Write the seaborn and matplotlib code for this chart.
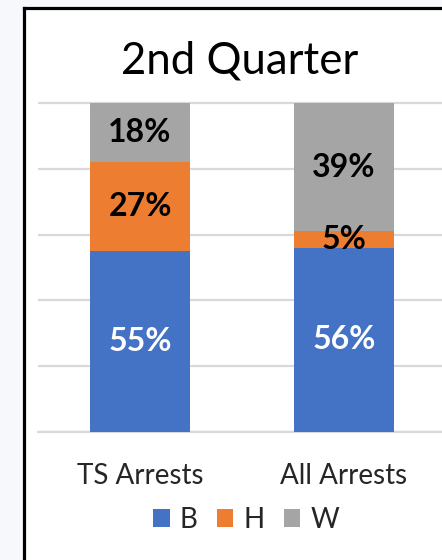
import matplotlib
matplotlib.use("Agg")
import matplotlib.pyplot as plt
import seaborn as sns
import numpy as np
from matplotlib.patches import Patch, Rectangle
from matplotlib.lines import Line2D

categories = ["TS Arrests", "All Arrests"]
series_names = ["B", "H", "W"]
B = [55, 56]
H = [27, 5]
W = [18, 39]
colors = {"B": "#4472C4", "H": "#ED7D31", "W": "#A5A5A5"}
label_colors = {"B": "white", "H": "black", "W": "black"}
title = "2nd Quarter"

sns.set_theme(style="white")
FONT = ["Lato", "DejaVu Sans"]
plt.rcParams["font.family"] = FONT

W_PX, H_PX = 442, 560
fig = plt.figure(figsize=(W_PX / 100, H_PX / 100), dpi=100)
fig.patch.set_facecolor("white")

# outer light background strips and black frame
fig.add_artist(Rectangle((0, 0), 23 / W_PX, 1, transform=fig.transFigure,
                         facecolor="#F7F8FC", edgecolor="none", zorder=0))
fig.add_artist(Rectangle((0, 1 - 6.5 / H_PX), 1, 6.5 / H_PX, transform=fig.transFigure,
                         facecolor="#F7F8FC", edgecolor="none", zorder=0))
fig.add_artist(Line2D([24 / W_PX, 24 / W_PX], [0, 1 - 7.5 / H_PX], transform=fig.transFigure,
                      color="black", lw=2.3, solid_capstyle="projecting", zorder=5))
fig.add_artist(Line2D([24 / W_PX, 1], [1 - 7.5 / H_PX, 1 - 7.5 / H_PX], transform=fig.transFigure,
                      color="black", lw=2.3, solid_capstyle="projecting", zorder=5))

# axes placement (pixels)
y0_px, y100_px = 432, 103
ymax = 1.02
unit = (y0_px - y100_px)
top_px = y0_px - unit * ymax
x_left, x_right = 38, 446
ax = fig.add_axes([x_left / W_PX, (H_PX - y0_px) / H_PX,
                   (x_right - x_left) / W_PX, (y0_px - top_px) / H_PX])

vals = np.array([B, H, W], dtype=float) / 100.0
cum = np.cumsum(vals, axis=0)

# draw stacked bars from top-down so lower segments overlay
for i in range(len(series_names) - 1, -1, -1):
    sns.barplot(x=categories, y=cum[i], color=colors[series_names[i]], width=0.49,
                saturation=1, linewidth=0, ax=ax, zorder=3)

for i, name in enumerate(series_names):
    for j in range(len(categories)):
        v = vals[i, j]
        yc = cum[i, j] - v / 2
        ax.text(j, yc, f"{int(round(v * 100))}%", ha="center", va="center",
                fontsize=23, fontweight="bold", color=label_colors[name], zorder=5)

ax.set_xlim(-0.5, 1.5)
ax.set_ylim(0, ymax)
ax.set_yticks(np.arange(0, 1.01, 0.2))
ax.yaxis.grid(True, color="#D9D9D9", lw=1.6)
ax.set_axisbelow(True)
ax.tick_params(axis="y", left=False, labelleft=False)
ax.tick_params(axis="x", bottom=False, pad=16, labelsize=20, labelcolor="#262626")
for s in ["top", "right", "left"]:
    ax.spines[s].set_visible(False)
ax.spines["bottom"].set_color("#D9D9D9")
ax.spines["bottom"].set_linewidth(1.6)
ax.set_xlabel("")
ax.set_ylabel("")
ax.patch.set_alpha(0)

fig.text(240 / W_PX, 1 - 61 / H_PX, title, ha="center", va="center",
         fontsize=31.5, color="black")

handles = [Patch(facecolor=colors[n], edgecolor="none", label=n) for n in series_names]
fig.legend(handles=handles, loc="center", bbox_to_anchor=(246 / W_PX, 1 - 520 / H_PX),
           ncol=3, frameon=False, fontsize=20, handlelength=0.6, handleheight=0.6,
           handletextpad=0.35, columnspacing=0.7, labelcolor="#262626")

fig.savefig("out.png", dpi=100, facecolor="white")
